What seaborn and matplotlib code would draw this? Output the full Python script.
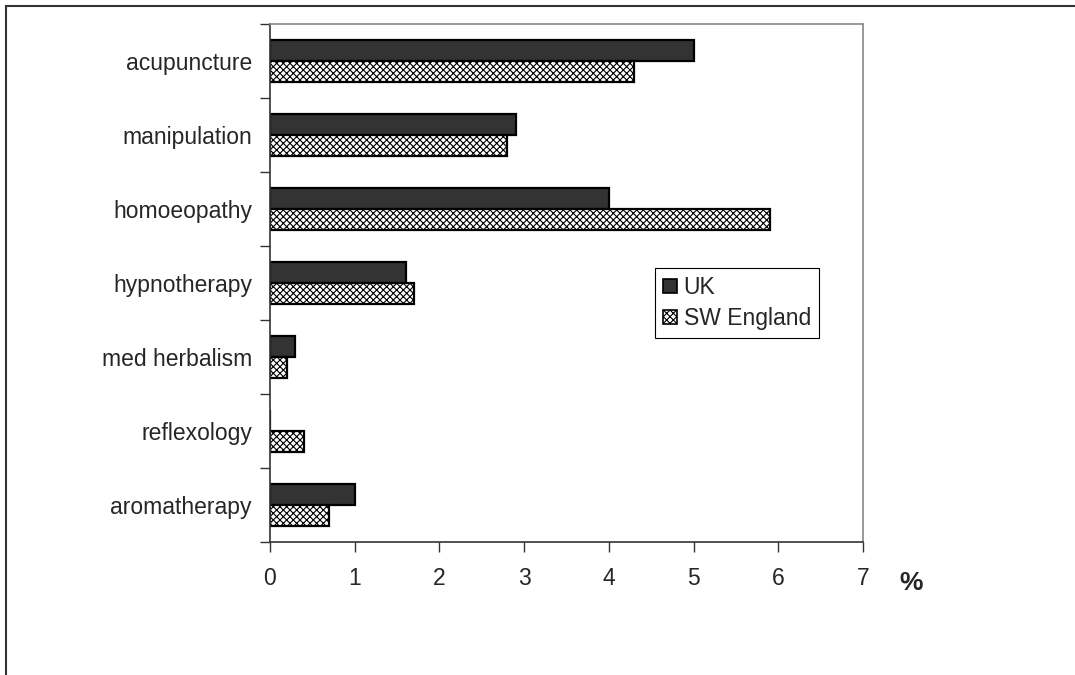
import pandas as pd
import matplotlib
matplotlib.use("Agg")
import matplotlib.pyplot as plt
import seaborn as sns
from matplotlib.patches import Patch, Rectangle

# Data
therapies = ["acupuncture", "manipulation", "homoeopathy", "hypnotherapy",
             "med herbalism", "reflexology", "aromatherapy"]
uk_pct = [5.0, 2.9, 4.0, 1.6, 0.3, 0.0, 1.0]
sw_pct = [4.3, 2.8, 5.9, 1.7, 0.2, 0.4, 0.7]
regions = ["UK", "SW England"]
x_ticks = [0, 1, 2, 3, 4, 5, 6, 7]

df = pd.DataFrame({
    "therapy": therapies * 2,
    "pct": uk_pct + sw_pct,
    "region": [regions[0]] * len(therapies) + [regions[1]] * len(therapies),
})

sns.set_style("white")
plt.rcParams["font.family"] = ["Liberation Sans", "DejaVu Sans"]
plt.rcParams["hatch.linewidth"] = 0.8

fig = plt.figure(figsize=(10.75, 6.75), dpi=100)
ax = fig.add_axes([270 / 1075, 1 - 542 / 675, (863 - 270) / 1075, (542 - 24) / 675])

sns.barplot(data=df, y="therapy", x="pct", hue="region", orient="h",
            order=therapies, hue_order=regions, width=0.57,
            palette=["#333333", "white"], edgecolor="black", linewidth=1.6,
            saturation=1, legend=False, ax=ax)

for bar in ax.containers[1]:
    bar.set_hatch("xxxxx")

fs = 16.5
ax.set_xlim(0, 7)
ax.set_ylim(len(therapies) - 0.5, -0.5)
ax.set_xticks(x_ticks)
ax.set_xticklabels([str(t) for t in x_ticks], fontsize=fs)
ax.set_yticks(range(len(therapies)))
ax.set_yticklabels(therapies, fontsize=fs)
ax.set_yticks([i - 0.5 for i in range(len(therapies) + 1)], minor=True)
ax.tick_params(axis="y", which="major", length=0, pad=13)
ax.tick_params(axis="y", which="minor", length=7, width=1, color="#333333", left=True)
ax.tick_params(axis="x", which="major", length=7, width=1, color="#333333",
               bottom=True, pad=11)
ax.set_xlabel("")
ax.set_ylabel("")

for side in ["left", "bottom"]:
    ax.spines[side].set_color("#333333")
    ax.spines[side].set_linewidth(1.2)
for side in ["top", "right"]:
    ax.spines[side].set_color("#888888")
    ax.spines[side].set_linewidth(1.2)

fig.text(911 / 1075, 1 - 583 / 675, "%", fontsize=19, fontweight="bold",
         ha="center", va="center")

handles = [Patch(facecolor="#333333", edgecolor="black", linewidth=1.2, label=regions[0]),
           Patch(facecolor="white", edgecolor="black", linewidth=1.2, hatch="xxxxx",
                 label=regions[1])]
leg = fig.legend(handles=handles, loc="upper left",
                 bbox_to_anchor=(655 / 1075, 1 - 268 / 675),
                 fontsize=fs, frameon=True, fancybox=False, framealpha=1,
                 edgecolor="black", handlelength=0.6, handleheight=0.6,
                 handletextpad=0.3, borderpad=0.35, labelspacing=0.35,
                 borderaxespad=0)
leg.get_frame().set_linewidth(0.8)

# outer frame around the chart (cropped on the right and bottom)
fig.patches.append(Rectangle((6 / 1075, -0.05), 1.2, 1 - 6 / 675 + 0.05,
                             transform=fig.transFigure, fill=False,
                             edgecolor="#333333", linewidth=1.5))

fig.savefig("out.png", dpi=100)
